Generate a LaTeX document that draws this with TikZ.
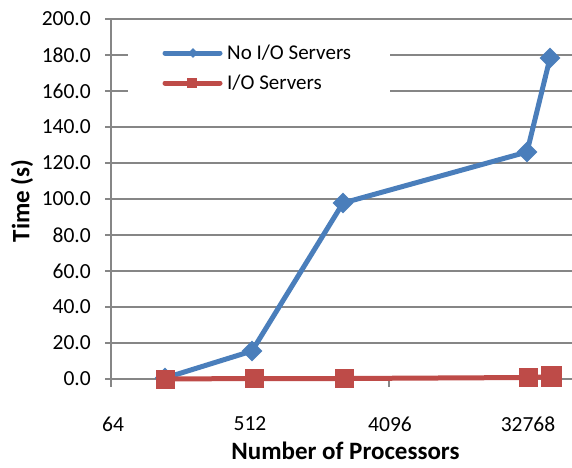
\documentclass[tikz,border=0pt]{standalone}
\usepackage{fontspec}
\setmainfont{Carlito}
\usetikzlibrary{shapes.geometric}

\definecolor{gridgray}{HTML}{868686}
\definecolor{serblue}{HTML}{4A7EBB}
\definecolor{serred}{HTML}{BE4B48}

\tikzset{
  grid line/.style={draw=gridgray, line width=1.6pt},
  axis line/.style={draw=gridgray, line width=1.6pt},
  ticklabel/.style={font=\fontsize{21.5}{24}\selectfont, text=black, inner sep=0pt},
  axistitle/.style={font=\fontsize{25}{28}\selectfont\bfseries, text=black, inner sep=0pt},
  legendtext/.style={font=\fontsize{21}{24}\selectfont, text=black, inner sep=0pt, anchor=west},
  blueline/.style={draw=serblue, line width=5pt, line join=round},
  redline/.style={draw=serred, line width=5pt, line join=round},
  bluemark/.style={diamond, fill=serblue, inner sep=0pt, minimum width=21pt, minimum height=21pt},
  redmark/.style={rectangle, fill=serred, inner sep=0pt, minimum width=19pt, minimum height=19pt},
  bluekey/.style={diamond, fill=serblue, inner sep=0pt, minimum width=10pt, minimum height=10pt},
  redkey/.style={rectangle, fill=serred, inner sep=0pt, minimum width=10pt, minimum height=10pt},
}

\begin{document}
\begin{tikzpicture}[x=1pt, y=-1pt]
  \useasboundingbox (0,0) rectangle (572,467);

  % horizontal grid lines and y ticks, 20 s apart (1.8 units per second)
  \foreach \v/\t in {0/0.0,20/20.0,40/40.0,60/60.0,80/80.0,100/100.0,120/120.0,140/140.0,160/160.0,180/180.0,200/200.0} {
    \pgfmathsetmacro{\yy}{379-1.8*\v}
    \draw[grid line] (105,\yy) -- (572,\yy);
    \node[ticklabel, anchor=east] (ylab\v) at (91,\yy) {\t};
  }

  % axes and x ticks
  \draw[axis line] (111,19) -- (111,387);
  \draw[axis line] (111,379) -- (572,379);
  \foreach \x in {250,389,528} {
    \draw[axis line] (\x,379) -- (\x,387);
  }

  % x tick labels (log2 scale)
  \node[ticklabel] (x64)    at (113,424) {64};
  \node[ticklabel] (x512)   at (250,424) {512};
  \node[ticklabel] (x4096)  at (390,424) {4096};
  \node[ticklabel] (x32768) at (528,424) {32768};

  % axis titles
  \node[axistitle] (xtitle) at (345.5,451) {Number of Processors};
  \node[axistitle, rotate=90] (ytitle) at (22,201) {Time (s)};

  % legend
  \fill[white] (128,33) rectangle (390,112);
  \coordinate (lb1) at (165,53);
  \coordinate (lb2) at (220,53);
  \coordinate (lr1) at (165,83);
  \coordinate (lr2) at (220,83);
  \draw[blueline, line cap=round] (lb1) -- (lb2);
  \node[bluekey] (lbm) at (193,53) {};
  \node[legendtext] (lbt) at (227,53) {No I/O Servers};
  \draw[redline, line cap=round] (lr1) -- (lr2);
  \node[redkey] (lrm) at (192,83) {};
  \node[legendtext] (lrt) at (227,83) {I/O Servers};

  % series without I/O servers
  \coordinate (b1) at (165,378);
  \coordinate (b2) at (252,351);
  \coordinate (b3) at (343,203);
  \coordinate (b4) at (527,152);
  \coordinate (b5) at (550,58);
  \draw[blueline] (b1) -- (b2) -- (b3) -- (b4) -- (b5);
  \foreach \p in {b1,b2,b3,b4,b5} { \node[bluemark] at (\p) {}; }

  % series with I/O servers
  \coordinate (r1) at (165,379);
  \coordinate (r2) at (254,378.5);
  \coordinate (r3) at (344,378.5);
  \coordinate (r4) at (528,377.5);
  \coordinate (r5) at (551,376.8);
  \draw[redline] (r1) -- (r2) -- (r3) -- (r4) -- (r5);
  \foreach \p in {r1,r2,r3,r4} { \node[redmark] at (\p) {}; }
  \node[redmark, minimum width=21pt, minimum height=21pt] at (r5) {};
\end{tikzpicture}
\end{document}
